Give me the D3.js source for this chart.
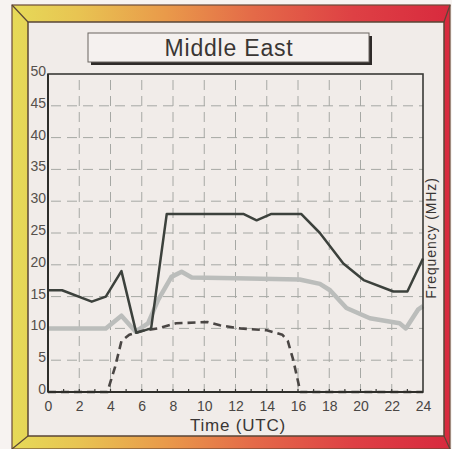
<!DOCTYPE html>
<html><head><meta charset="utf-8">
<script src="https://cdn.jsdelivr.net/npm/d3@7"></script>
<style>
body{margin:0;background:#f7f3f1;}
svg{display:block;font-family:"Liberation Sans",Arial,sans-serif;}
</style>
</head><body>
<svg id="c" width="452" height="449"></svg>
<script>
const title = "Middle East";
const xLabel = "Time (UTC)";
const yLabel = "Frequency (MHz)";
const xTicks = [0,2,4,6,8,10,12,14,16,18,20,22,24];
const yTicks = [0,5,10,15,20,25,30,35,40,45,50];

// upper (dark) curve
const upperHours  = [0,0.9,2.8,3.7,4.7,5.65,6.6,7.6,12.5,13.35,14.3,16.2,17.4,18.9,20.2,22.1,23,24];
const upperValues = [16,16,14.2,15,19,9.3,10,28,28,27,28,28,25,20.2,17.6,15.8,15.8,21];
// middle (light grey) curve
const midHours  = [0,3.7,4.7,5.6,6.4,7.05,7.9,8.55,9.2,12,16.1,17.4,18.05,19.1,20.6,22.5,22.9,23.7,24];
const midValues = [10,10,12,9.5,10.8,14.5,18.1,18.9,18,17.9,17.7,17,16,13.2,11.6,10.8,10,13,13.5];
// lower (dashed) curve
const lowHours  = [0,3.8,4.3,4.7,5.2,6,7,8.2,10.2,11,12.3,14,15,15.35,15.7,16.15,24];
const lowValues = [0,0,4,8,9,9.6,10,10.8,11,10.5,10,9.7,9,8,5,0,0];

const svg = d3.select("#c");

// frame gradient
const defs = svg.append("defs");
const g = defs.append("linearGradient").attr("id","fr").attr("x1","0").attr("x2","1").attr("y1","0").attr("y2","0");
[[0,"#e6da58"],[0.15,"#e8c452"],[0.35,"#e99a4a"],[0.55,"#e46a48"],[0.78,"#de4044"],[1,"#d82a3e"]]
  .forEach(([o,c])=>g.append("stop").attr("offset",o).attr("stop-color",c));

const outer = {x0:12,y0:5,x1:450,y1:449};
const inner = {x0:28,y0:22,x1:444,y1:436};
svg.append("rect").attr("x",outer.x0).attr("y",outer.y0)
  .attr("width",outer.x1-outer.x0).attr("height",outer.y1-outer.y0)
  .attr("fill","url(#fr)").attr("stroke","#6a4a38").attr("stroke-width",1.2);
svg.append("rect").attr("x",inner.x0).attr("y",inner.y0)
  .attr("width",inner.x1-inner.x0).attr("height",inner.y1-inner.y0)
  .attr("fill","#f1ece9").attr("stroke","#5a4636").attr("stroke-width",1.5);
[[outer.x0,outer.y0,inner.x0,inner.y0],[outer.x1,outer.y0,inner.x1,inner.y0],
 [outer.x0,outer.y1,inner.x0,inner.y1],[outer.x1,outer.y1,inner.x1,inner.y1]]
 .forEach(([a,b,c,d])=>svg.append("line").attr("x1",a).attr("y1",b).attr("x2",c).attr("y2",d)
   .attr("stroke","#5a4636").attr("stroke-width",1.2));

// title box
svg.append("rect").attr("x",91).attr("y",36).attr("width",281).attr("height",29).attr("fill","#2e2a28");
svg.append("rect").attr("x",88).attr("y",33).attr("width",281).attr("height",29)
  .attr("fill","#f5f1ef").attr("stroke","#6a6460").attr("stroke-width",1);
svg.append("text").attr("x",229).attr("y",56).attr("text-anchor","middle")
  .attr("font-size",23).attr("letter-spacing",0.8).attr("fill","#3a3634").text(title);

// scales
const pL = 48, pR = 423, pT = 74, pB = 392;
const x = d3.scaleLinear().domain([0,24]).range([pL,pR]);
const y = d3.scaleLinear().domain([0,50]).range([pB,pT]);

// grid
const grid = svg.append("g").attr("stroke","#a6a8a4").attr("stroke-width",1).attr("fill","none");
grid.selectAll("line.h").data(yTicks.filter(d=>d>0&&d<50)).join("line").attr("class","h")
  .attr("x1",pL).attr("x2",pR).attr("y1",d=>y(d)).attr("y2",d=>y(d))
  .attr("stroke-dasharray","10,6").attr("stroke-dashoffset",-3);
grid.selectAll("line.v").data(xTicks.filter(d=>d>0&&d<24)).join("line").attr("class","v")
  .attr("x1",d=>x(d)).attr("x2",d=>x(d)).attr("y1",pT).attr("y2",pB)
  .attr("stroke-dasharray","10,6").attr("stroke-dashoffset",-6);

// hour ticks on bottom axis
svg.append("g").selectAll("line").data(d3.range(1,24)).join("line")
  .attr("x1",d=>x(d)).attr("x2",d=>x(d)).attr("y1",pB).attr("y2",pB-3)
  .attr("stroke","#3a3a36").attr("stroke-width",1.2);

// lines
const line = (hs,vs)=>d3.line().x((d,i)=>x(hs[i])).y(d=>y(d))(vs);
svg.append("path").attr("d",line(midHours,midValues)).attr("fill","none")
  .attr("stroke","#bbbdbb").attr("stroke-width",4.5).attr("stroke-linejoin","round");
svg.append("path").attr("d",line(lowHours,lowValues)).attr("fill","none")
  .attr("stroke","#4a4644").attr("stroke-width",2.6).attr("stroke-dasharray","8,5").attr("stroke-linejoin","round");
svg.append("path").attr("d",line(upperHours,upperValues)).attr("fill","none")
  .attr("stroke","#3c413c").attr("stroke-width",2.5).attr("stroke-linejoin","round");

// plot border
svg.append("rect").attr("x",pL).attr("y",pT).attr("width",pR-pL).attr("height",pB-pT)
  .attr("fill","none").attr("stroke","#3a3a36").attr("stroke-width",1.6);
svg.append("line").attr("x1",pL).attr("x2",pR).attr("y1",pB).attr("y2",pB)
  .attr("stroke","#2e2e2a").attr("stroke-width",2.2);
svg.append("line").attr("x1",pL).attr("x2",pL).attr("y1",pT).attr("y2",pB)
  .attr("stroke","#2e2e2a").attr("stroke-width",2);

// axes labels
const yAxis = d3.axisLeft(y).tickValues(yTicks).tickSize(0).tickPadding(2);
const ya = svg.append("g").attr("transform",`translate(${pL},-3)`).call(yAxis);
ya.select(".domain").remove();
ya.selectAll("text").attr("font-size",14).attr("fill","#55504c").attr("font-family","Liberation Sans, Arial, sans-serif");

const xAxis = d3.axisBottom(x).tickValues(xTicks).tickSize(0).tickPadding(9);
const xa = svg.append("g").attr("transform",`translate(0,${pB})`).call(xAxis);
xa.select(".domain").remove();
xa.selectAll("text").attr("font-size",14).attr("fill","#4a4644").attr("font-family","Liberation Sans, Arial, sans-serif");

svg.append("text").attr("x",238).attr("y",431).attr("text-anchor","middle")
  .attr("font-size",17).attr("letter-spacing",0.8).attr("fill","#3a3634").text(xLabel);
svg.append("text").attr("transform","translate(436,238) rotate(-90)").attr("text-anchor","middle")
  .attr("font-size",14).attr("letter-spacing",0.9).attr("fill","#3a3634").text(yLabel);
</script>
</body></html>
